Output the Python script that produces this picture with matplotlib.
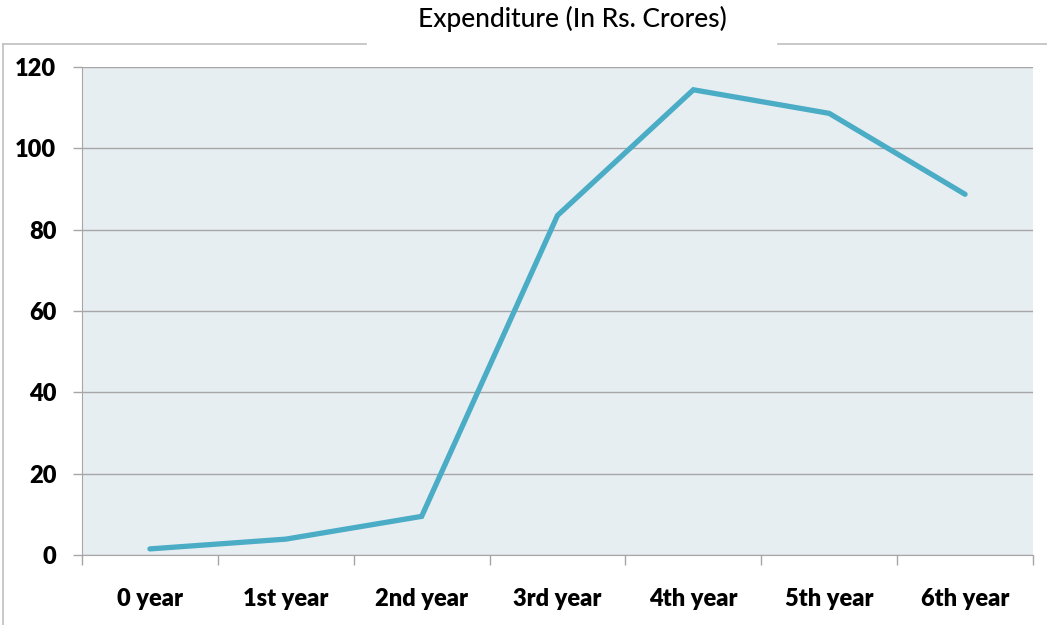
import matplotlib
matplotlib.use("Agg")
import numpy as np
import matplotlib.pyplot as plt
from matplotlib.lines import Line2D

categories = ["0 year", "1st year", "2nd year", "3rd year", "4th year", "5th year", "6th year"]
expenditure = [1.5, 3.9, 9.5, 83.5, 114.4, 108.6, 88.7]
y_ticks = [0, 20, 40, 60, 80, 100, 120]

plt.rcParams['font.family'] = ['Lato', 'DejaVu Sans']

fig = plt.figure(figsize=(10.47, 6.25), dpi=100)
ax = fig.add_axes([82 / 1047, 70 / 625, (1033 - 82) / 1047, (555 - 67) / 625])
ax.set_facecolor("#E7EEF2")

x = np.arange(len(categories))
ax.plot(x, expenditure, color="#4BACC6", linewidth=3.8, solid_capstyle="round", solid_joinstyle="miter", zorder=3)

ax.set_xlim(-0.5, len(categories) - 0.5)
ax.set_ylim(0, 120)
ax.set_yticks(y_ticks)
ax.set_yticklabels([str(v) for v in y_ticks], fontsize=17, fontweight="heavy")
ax.yaxis.grid(True, color="#A6A6A6", linewidth=1.0)
ax.set_axisbelow(True)

# category labels between boundary ticks
ax.set_xticks(np.arange(-0.5, len(categories), 1.0))
ax.set_xticklabels([])
ax.set_xticks(x, minor=True)
ax.set_xticklabels(categories, minor=True, fontsize=17, fontweight="heavy")
ax.tick_params(axis="x", which="major", length=7, color="#A6A6A6", width=1)
ax.tick_params(axis="x", which="minor", length=0, pad=24)
ax.tick_params(axis="y", length=6.5, color="#A6A6A6", width=1, pad=12)

for side in ["top", "right"]:
    ax.spines[side].set_visible(False)
ax.spines["left"].set_color("#A6A6A6")
ax.spines["bottom"].set_color("#A6A6A6")

# outer chart frame, broken by the title
frame_y = 1 - 44 / 625
fig.add_artist(Line2D([3 / 1047, 3 / 1047], [0, frame_y], color="#BFBFBF", linewidth=1.2))
fig.add_artist(Line2D([3 / 1047, 366 / 1047], [frame_y, frame_y], color="#BFBFBF", linewidth=1.2))
fig.add_artist(Line2D([778 / 1047, 1.0], [frame_y, frame_y], color="#BFBFBF", linewidth=1.2))

fig.text(572 / 1047, 1 - 19 / 625, "Expenditure (In Rs. Crores)", ha="center", va="center",
         fontsize=19, fontweight="medium")

plt.savefig("out.png", dpi=100)
